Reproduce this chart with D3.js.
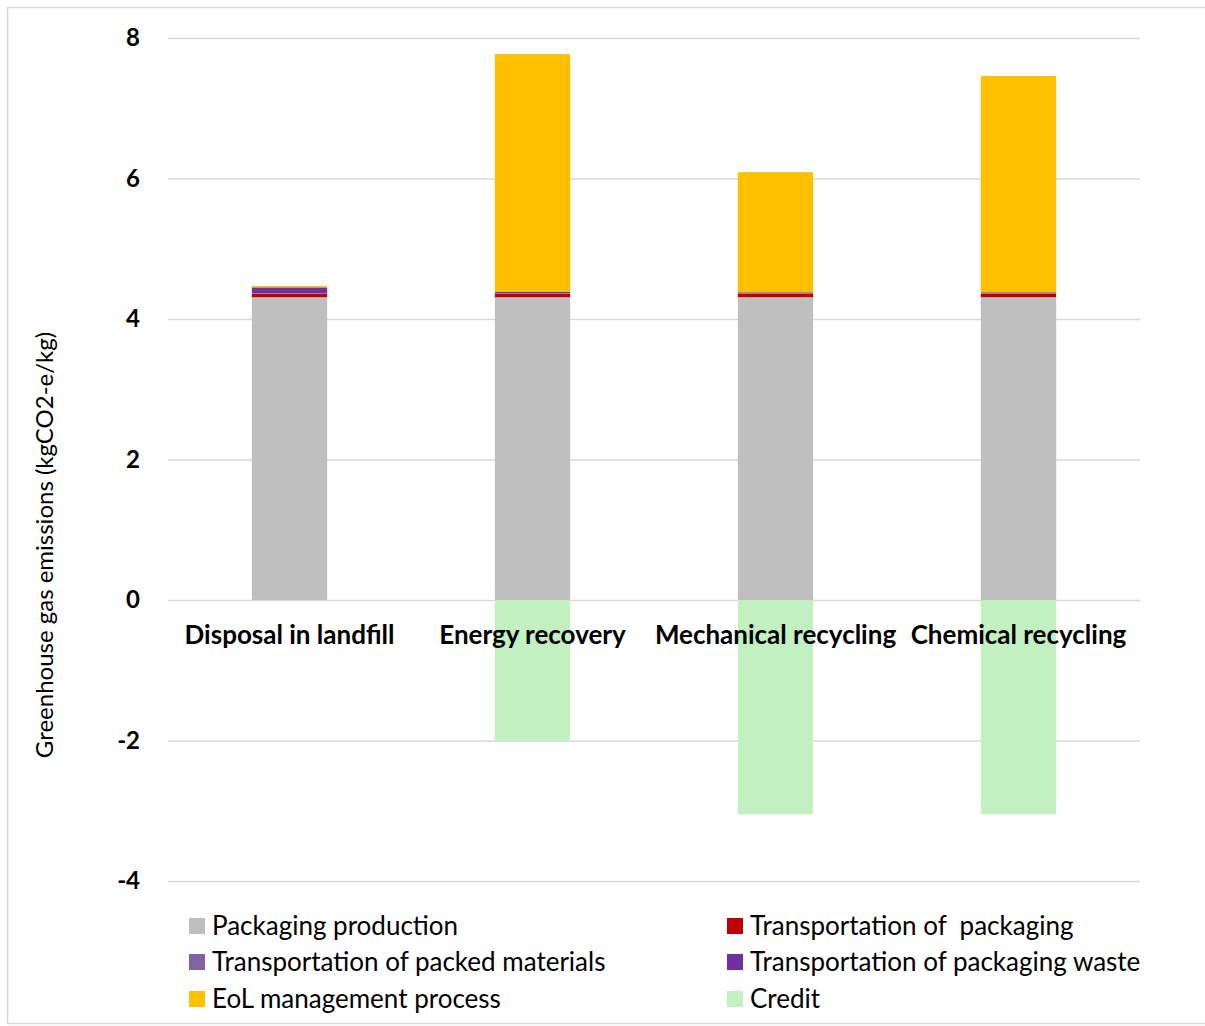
<!DOCTYPE html>
<html>
<head>
<meta charset="utf-8">
<script src="https://cdn.jsdelivr.net/npm/d3@7/dist/d3.min.js"></script>
<style>
  body { margin: 0; background: #fff; }
  #chart text { font-family: Lato, "Open Sans", sans-serif; fill: #000; }
</style>
</head>
<body>
<div id="chart"></div>
<script>
//Datos
const categories = ['Disposal in landfill', 'Energy recovery', 'Mechanical recycling', 'Chemical recycling'];
const seriesKeys = ['production', 'transPackaging', 'transPacked', 'transWaste', 'eol', 'credit'];
const seriesNames = ['Packaging production', 'Transportation of  packaging', 'Transportation of packed materials',
    'Transportation of packaging waste', 'EoL management process', 'Credit'];
const seriesColors = ['#BFBFBF', '#C00000', '#8064A2', '#7030A0', '#FFC000', '#C3F0C0'];

const production     = [4.31, 4.31, 4.31, 4.31];
const transPackaging = [0.05, 0.05, 0.05, 0.05];
const transPacked    = [0.01, 0.01, 0.01, 0.01];
const transWaste     = [0.08, 0.02, 0.01, 0.01];
const eol            = [0.02, 3.38, 1.71, 3.08];
const credit         = [0, -2.01, -3.05, -3.05];

const yTicks = [-4, -2, 0, 2, 4, 6, 8];

let data = categories.map(function(c, i) {
    return {
        cat: c,
        production: production[i],
        transPackaging: transPackaging[i],
        transPacked: transPacked[i],
        transWaste: transWaste[i],
        eol: eol[i],
        credit: credit[i]
    };
});

let W = 1205, H = 1026;
let margin = {top: 38, right: 65, bottom: 145, left: 168},
    width = 1140 - margin.left,
    height = 881 - margin.top;

let root = d3.select('#chart').append('svg')
    .attr('width', W)
    .attr('height', H);

//Borde exterior
root.append('rect')
    .attr('x', 7.5).attr('y', 7.5)
    .attr('width', W + 10).attr('height', 1016)
    .attr('fill', 'none')
    .attr('stroke', '#d9d9d9')
    .attr('stroke-width', 1.5);

let svg = root.append('g')
    .attr('transform', 'translate(' + margin.left + ',' + margin.top + ')');

let x = d3.scaleBand()
    .domain(categories)
    .range([0, width])
    .paddingInner(0.69)
    .paddingOuter(0.345);

let y = d3.scaleLinear()
    .domain([-4, 8])
    .range([height, 0]);

//Eje Y con rejilla
let yAxis = svg.append('g')
    .attr('class', 'yaxis')
    .call(d3.axisLeft(y).tickValues(yTicks).tickSize(-width).tickPadding(28)
        .tickFormat(function(d) { return String(d); }));
yAxis.select('.domain').remove();
yAxis.selectAll('.tick line')
    .attr('stroke', '#d9d9d9')
    .attr('stroke-width', 1.5);
yAxis.selectAll('.tick text')
    .style('font-size', '24px')
    .style('font-weight', 'bold');

//Apilado (positivos y negativos)
let stacked = d3.stack()
    .keys(seriesKeys)
    .offset(d3.stackOffsetDiverging)(data);

let color = d3.scaleOrdinal().domain(seriesKeys).range(seriesColors);

svg.append('g')
    .selectAll('g')
    .data(stacked)
    .enter()
    .append('g')
    .attr('fill', function(d) { return color(d.key); })
    .selectAll('rect')
    .data(function(d) { return d; })
    .enter()
    .append('rect')
    .attr('x', function(d) { return x(d.data.cat); })
    .attr('width', x.bandwidth())
    .attr('y', function(d) { return y(Math.max(d[0], d[1])); })
    .attr('height', function(d) { return Math.abs(y(d[0]) - y(d[1])); });

//Etiquetas de categoría
svg.append('g')
    .selectAll('text')
    .data(categories)
    .enter()
    .append('text')
    .attr('x', function(d) { return x(d) + x.bandwidth() / 2; })
    .attr('y', y(0) + 44)
    .attr('text-anchor', 'middle')
    .style('font-size', '26px')
    .style('font-weight', 'bold')
    .text(function(d) { return d; });

//Título eje Y
root.append('text')
    .attr('transform', 'translate(53,545) rotate(-90)')
    .attr('text-anchor', 'middle')
    .style('font-size', '24px')
    .text('Greenhouse gas emissions (kgCO2-e/kg)');

//Leyenda
let legendPos = [[189, 926], [727, 926], [189, 962], [727, 962], [189, 999], [727, 999]];
let legendOrder = [0, 1, 2, 3, 4, 5];

let legend = root.append('g')
    .selectAll('g')
    .data(legendOrder)
    .enter()
    .append('g')
    .attr('transform', function(d, i) { return 'translate(' + legendPos[i][0] + ',' + legendPos[i][1] + ')'; });

legend.append('rect')
    .attr('x', 0).attr('y', -8)
    .attr('width', 16).attr('height', 16)
    .attr('fill', function(d) { return seriesColors[d]; });

legend.append('text')
    .attr('x', 23)
    .attr('y', 9)
    .style('font-size', '26px')
    .style('white-space', 'pre')
    .text(function(d) { return seriesNames[d]; });
</script>
</body>
</html>
